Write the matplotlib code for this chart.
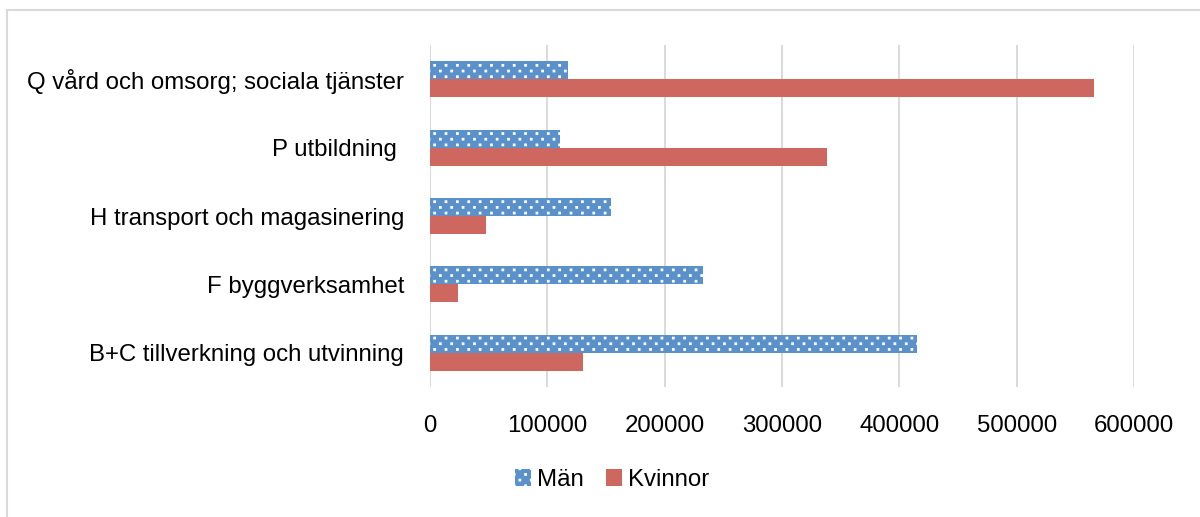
import numpy as np
import matplotlib.pyplot as plt
import matplotlib.hatch as mhatch
from matplotlib.path import Path
from matplotlib.lines import Line2D

plt.rcParams['font.family'] = ['Liberation Sans', 'DejaVu Sans']
plt.rcParams['hatch.linewidth'] = 0.6

# categories listed bottom to top
categories = ['B+C tillverkning och utvinning', 'F byggverksamhet',
              'H transport och magasinering', 'P utbildning ',
              'Q vård och omsorg; sociala tjänster']
man = [415000, 233000, 154500, 110500, 117500]
kvinnor = [130500, 23500, 47500, 338500, 566000]
xticks = [0, 100000, 200000, 300000, 400000, 500000, 600000]

blue = '#5b91cb'
red = '#cd6760'
fs = 13.8


# Excel-like "dotted grid" fill: small squares, staggered rows
class DotGrid(mhatch.HatchPatternBase):
    nx, ny = 11, 22

    def __init__(self, hatch, density):
        self.n = self.nx * self.ny if '.' in hatch else 0
        self.num_vertices = self.n * 5

    def set_vertices_and_codes(self, vertices, codes):
        d = 0.85 / 125
        k = 0
        for j in range(self.ny):
            yc = (j + 0.5) / self.ny
            shift = 0.5 if j % 2 else 0.0
            for i in range(self.nx):
                xc = (i + 0.25 + shift) / self.nx
                vertices[k:k + 5] = [(xc - d, yc - d), (xc + d, yc - d),
                                     (xc + d, yc + d), (xc - d, yc + d),
                                     (xc - d, yc - d)]
                codes[k:k + 5] = [Path.MOVETO, Path.LINETO, Path.LINETO,
                                  Path.LINETO, Path.CLOSEPOLY]
                k += 5


mhatch._hatch_types = [DotGrid if t is mhatch.SmallFilledCircles else t
                       for t in mhatch._hatch_types]

fig = plt.figure(figsize=(9.6, 4.136), dpi=125)
ax = fig.add_axes([430/1200, 1-387/517, (1134-430)/1200, (387-45)/517])

y = np.arange(len(categories))
h = 0.263
ax.barh(y + h/2, man, height=h, color=blue, edgecolor='white', linewidth=0,
        hatch='.', label='Män', zorder=3)
ax.barh(y - h/2, kvinnor, height=h, color=red, linewidth=0,
        label='Kvinnor', zorder=3)

ax.set_xlim(0, 600000)
ax.set_ylim(-0.5, len(categories) - 0.5)
ax.set_xticks(xticks)
ax.set_xticklabels([str(t) for t in xticks])
ax.set_yticks(y)
ax.set_yticklabels(categories)
ax.tick_params(axis='both', length=0, labelsize=fs, colors='black')
ax.tick_params(axis='y', pad=15)
ax.tick_params(axis='x', pad=16)
ax.grid(axis='x', color='#d9d9d9', linewidth=1.1, zorder=0)
for s in ax.spines.values():
    s.set_visible(False)

fig.legend(loc='center', bbox_to_anchor=(612/1200, 1-480/517), ncol=2,
           frameon=False, fontsize=fs, handlelength=0.67, handleheight=0.67,
           handletextpad=0.25, columnspacing=0.95)

# chart area border (top and left visible)
fig.add_artist(Line2D([7/1200, 1.0], [1-10/517, 1-10/517], color='#d9d9d9', linewidth=1.2))
fig.add_artist(Line2D([7/1200, 7/1200], [0, 1-10/517], color='#d9d9d9', linewidth=1.2))

fig.savefig('out.png', dpi=125)
